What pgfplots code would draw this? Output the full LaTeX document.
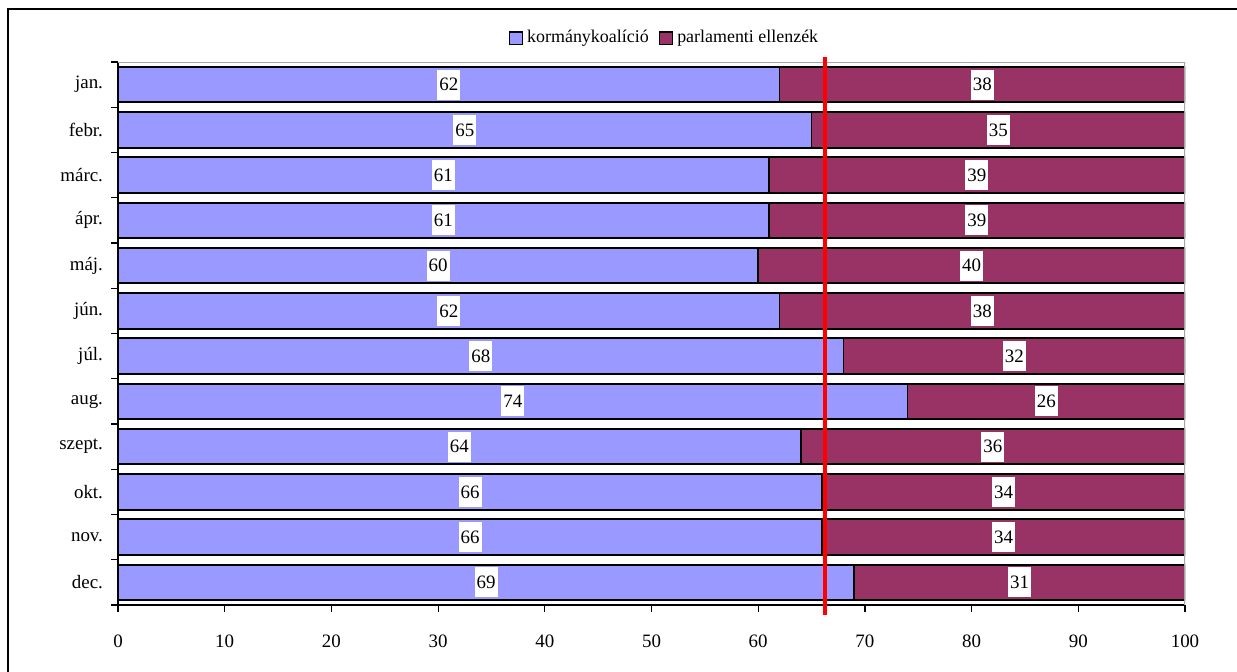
\documentclass[border=0pt]{standalone}
\usepackage{pgfplots}
\pgfplotsset{compat=1.18}
\usepackage{fontspec}
\setmainfont{Liberation Serif}
\usetikzlibrary{calc}
\definecolor{koal}{HTML}{9999FF}
\definecolor{ellen}{HTML}{993366}

\pgfplotsset{
	common/.style={
		scale only axis, width=533.5bp, height=271.5bp,
		xmin=0, xmax=100, ymin=0.5, ymax=12.5,
		y dir=reverse,
	},
}

\begin{document}
\begin{tikzpicture}
	\begin{axis}
	[
		common,
		name=ax,
		xbar stacked,
		bar width=0.785,
		axis x line*=bottom,
		axis y line*=left,
		axis line style={line width=0.8bp},
		ytick={1,...,12},
		yticklabels={jan.,febr.,márc.,ápr.,máj.,jún.,júl.,aug.,szept.,okt.,nov.,dec.},
		minor ytick={0.5,1.5,...,12.5},
		xtick={0,10,...,100},
		minor xtick={0,10,...,100},
		major tick length=0pt,
		minor tick length=3.5bp,
		tick align=outside,
		tick style={black, line width=0.6bp},
		ticklabel style={font=\fontsize{9.5}{11}\selectfont},
		yticklabel style={xshift=-4bp},
		xticklabel style={yshift=-11.5bp},
		/pgf/number format/assume math mode=true,
		legend style={at={(0.513,1.044)}, anchor=center, draw=none, fill=none,
			legend columns=2, font=\fontsize{9}{10}\selectfont,
			/tikz/every even column/.append style={column sep=3bp}},
		legend image code/.code={\draw[#1, line width=0.8bp] (0bp,-3.2bp) rectangle (6.5bp,3.2bp);},
	]
		% plot area frame (top and right in gray)
		\draw[gray!70, line width=0.8bp] (rel axis cs:0,1) -- (rel axis cs:1,1) -- (rel axis cs:1,0);

		\addplot[fill=koal, draw=black, line width=0.9bp] coordinates
		{
			(62,1) (65,2) (61,3) (61,4) (60,5) (62,6) (68,7) (74,8) (64,9) (66,10) (66,11) (69,12)
		};
		\addplot[fill=ellen, draw=black, line width=0.9bp] coordinates
		{
			(38,1) (35,2) (39,3) (39,4) (40,5) (38,6) (32,7) (26,8) (36,9) (34,10) (34,11) (31,12)
		};
		\legend{kormánykoalíció, parlamenti ellenzék}
	\end{axis}

	\begin{axis}
	[
		common,
		hide axis,
		clip=false,
	]
		% two-thirds line
		\addplot[red, line width=2bp] coordinates {(66.25,0.39) (66.25,12.72)};

		% value labels, centred on each segment
		\addplot
		[
			only marks, mark=*, mark options={draw=none, fill=none},
			nodes near coords, point meta=explicit symbolic,
			every node near coord/.style={anchor=center, fill=white, inner xsep=1bp,
				inner ysep=0pt, minimum height=15bp, font=\fontsize{9.5}{11}\selectfont},
		] coordinates
		{
			(31,1)[62] (32.5,2)[65] (30.5,3)[61] (30.5,4)[61] (30,5)[60] (31,6)[62]
			(34,7)[68] (37,8)[74] (32,9)[64] (33,10)[66] (33,11)[66] (34.5,12)[69]
			(81,1)[38] (82.5,2)[35] (80.5,3)[39] (80.5,4)[39] (80,5)[40] (81,6)[38]
			(84,7)[32] (87,8)[26] (82,9)[36] (83,10)[34] (83,11)[34] (84.5,12)[31]
		};
	\end{axis}

	% outer frame of the chart
	\draw[line width=1bp] ($(ax.south west)+(-55bp,-40bp)$) -- ($(ax.north west)+(-55bp,26.5bp)$) -- ($(ax.north east)+(40bp,26.5bp)$);

	\pgfresetboundingbox
	\path ($(ax.south west)+(-59bp,-33.5bp)$) rectangle ($(ax.north east)+(26bp,31bp)$);
\end{tikzpicture}
\end{document}
